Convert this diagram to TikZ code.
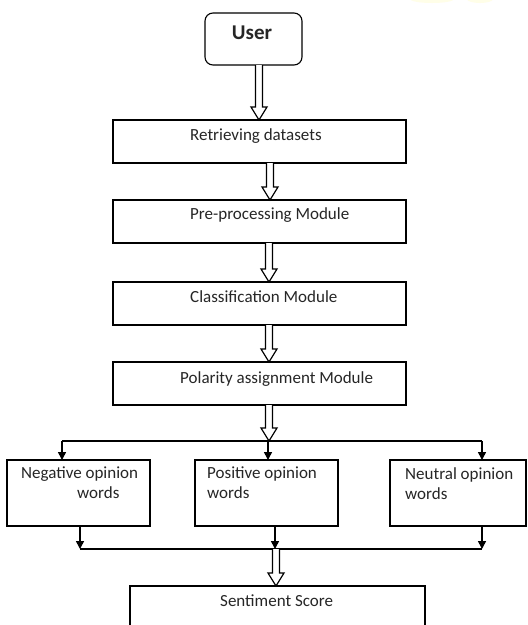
\documentclass[tikz,border=0pt]{standalone}
\usepackage{fontspec}
\setmainfont{Carlito}
\usetikzlibrary{calc,arrows.meta}
\tikzset{
  box/.style={draw, line width=1.1pt, inner sep=0pt, outer sep=0pt},
  lbl/.style={anchor=west, inner sep=0pt, font=\fontsize{17}{20}\selectfont, text=black!85, align=left},
  harrow/.style={draw, line width=1.2pt, fill=white, line join=miter},
  conn/.style={line width=1.5pt},
  tip/.style={-{Triangle[length=8pt,width=8pt]}}
}
\newcommand{\harrowdraw}[2]{%
  \draw[harrow] ($(#1)+(-3.5,0)$) -- ($(#2)+(-3.5,-13)$) -- ($(#2)+(-8,-13)$) -- (#2)
    -- ($(#2)+(8,-13)$) -- ($(#2)+(3.5,-13)$) -- ($(#1)+(3.5,0)$);}
\begin{document}
\begin{tikzpicture}[x=1pt,y=-1pt]
\clip (0,0) rectangle (528,625);
\fill[white] (0,0) rectangle (528,625);
\fill[yellow!9] (432,-1) ellipse [x radius=22, y radius=4];
\fill[yellow!9] (480,-1) ellipse [x radius=13, y radius=4];

% boxes
\node[box, rounded corners=8pt, minimum width=97, minimum height=52] (u) at (253.5,39) {};
\node[font=\fontsize{21}{24}\bfseries\selectfont, text=black!85] (ut) at (252,33) {User};
\node[box, minimum width=293, minimum height=43] (r) at (259.5,141.5) {};
\node[lbl] (rt) at (190,136) {Retrieving datasets};
\node[box, minimum width=293, minimum height=43] (p) at (259.5,221.5) {};
\node[lbl] (pt) at (190,215) {Pre-processing Module};
\node[box, minimum width=293, minimum height=43] (c) at (259.5,303.5) {};
\node[lbl] (ct) at (190,297) {Classification Module};
\node[box, minimum width=293, minimum height=43] (pol) at (259.5,383.5) {};
\node[lbl] (polt) at (180,379) {Polarity assignment Module};

\node[box, minimum width=143, minimum height=66] (neg) at (78.5,493) {};
\node[lbl, anchor=north west] (negt) at (21,467) {Negative opinion\\\hspace*{56pt}words};
\node[box, minimum width=143, minimum height=66] (pos) at (266.5,493) {};
\node[lbl, anchor=north west] (post) at (207,467) {Positive opinion\\words};
\node[box, minimum width=136, minimum height=66] (neu) at (458,493) {};
\node[lbl, anchor=north west] (neut) at (405,467) {Neutral opinion\\words};

\node[box, minimum width=295, minimum height=74] (s) at (277.5,623) {};
\node[lbl] (st) at (220,601) {Sentiment Score};

% connector helpers
\coordinate (a1) at (259,0);
\coordinate (a2) at (270,0);
\coordinate (a3) at (269,0);
\coordinate (t) at (269,441);
\coordinate (tl) at (62,441);
\coordinate (tm) at (268,441);
\coordinate (tr) at (482,441);
\coordinate (bl) at (80,549);
\coordinate (bm) at (275,549);
\coordinate (br) at (482,549);
\coordinate (b) at (276,549);

% hollow arrows
\harrowdraw{u.south -| a1}{r.north -| a1}
\harrowdraw{r.south -| a2}{p.north -| a2}
\harrowdraw{p.south -| a3}{c.north -| a3}
\harrowdraw{c.south -| a3}{pol.north -| a3}

% split
\draw[conn] (tl) -- (tr);
\draw[conn, tip] (tl) -- (tl |- neg.north);
\draw[conn, tip] (tm) -- (tm |- pos.north);
\draw[conn, tip] (tr) -- (tr |- neu.north);
\harrowdraw{pol.south -| t}{t}

% merge
\draw[conn] (bl) -- (br);
\draw[conn, tip] (bl |- neg.south) -- (bl);
\draw[conn, tip] (bm |- pos.south) -- (bm);
\draw[conn, tip] (br |- neu.south) -- (br);
\harrowdraw{b}{s.north -| b}
\end{tikzpicture}
\end{document}
